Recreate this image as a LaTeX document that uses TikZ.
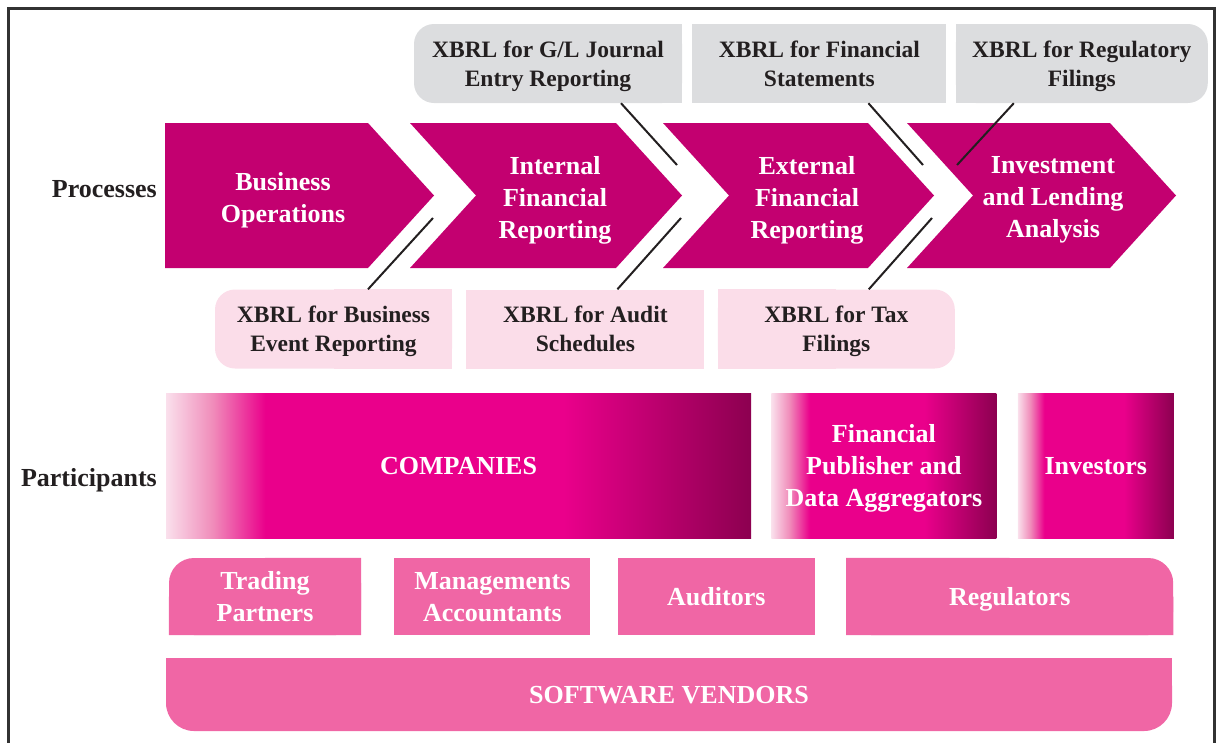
\documentclass[tikz,border=0pt]{standalone}
\usepackage{fontspec}
\setmainfont{Liberation Serif}
\usetikzlibrary{positioning,backgrounds}

\definecolor{inkc}{RGB}{35,31,32}
\definecolor{procmag}{RGB}{195,0,112}
\definecolor{grayc}{RGB}{220,221,223}
\definecolor{lightpk}{RGB}{251,221,233}
\definecolor{rolepk}{RGB}{240,102,165}
\definecolor{palepk}{RGB}{250,224,236}
\definecolor{midpk}{RGB}{240,140,186}
\definecolor{hotmag}{RGB}{234,0,139}
\definecolor{darkmag}{RGB}{140,0,80}

\newcommand{\lblfont}{\fontsize{26}{32}\selectfont\bfseries}
\newcommand{\xbrlfont}{\fontsize{23.5}{29}\selectfont\bfseries}

\pgfdeclarehorizontalshading{partshade}{100bp}{color(0bp)=(palepk); color(25bp)=(palepk);
  color(29bp)=(midpk); color(33.5bp)=(hotmag); color(59bp)=(hotmag);
  color(75bp)=(darkmag); color(100bp)=(darkmag)}

\begin{document}
\begin{tikzpicture}[x=1pt,y=-1pt,
  xbrl/.style={align=center,inner sep=0pt,minimum height=79pt,font=\xbrlfont,text=inkc,text depth=0pt},
  topbox/.style={xbrl,fill=grayc},
  lowbox/.style={xbrl,fill=lightpk},
  stage/.style={align=center,inner sep=0pt,font=\lblfont,text=white,text depth=0pt},
  party/.style={align=center,inner sep=0pt,minimum height=145pt,font=\lblfont,text=white,text depth=-4pt,shade,shading=partshade},
  role/.style={align=center,inner sep=0pt,minimum height=77pt,font=\lblfont,text=white,text depth=-3pt,fill=rolepk},
  rowlabel/.style={anchor=base east,inner sep=0pt,font=\lblfont,text=inkc},
  link/.style={draw=inkc,line width=2pt}]
\useasboundingbox (0,0) rectangle (1217,742);
\draw[draw={rgb,255:red,50;green,50;blue,50},line width=3pt] (8,760) -- (8,8) -- (1214,8) -- (1214,760);

% process chain
\fill[procmag] (165,123) -- (368,123) -- (434,195.5) -- (368,268) -- (165,268) -- cycle;
\fill[procmag] (410,123) -- (616,123) -- (682,195.5) -- (616,268) -- (410,268) -- (476,195.5) -- cycle;
\fill[procmag] (663,123) -- (868,123) -- (934,195.5) -- (868,268) -- (663,268) -- (729,195.5) -- cycle;
\fill[procmag] (907,123) -- (1110,123) -- (1176,195.5) -- (1110,268) -- (907,268) -- (973,195.5) -- cycle;
\node[stage] (bo) at (283,197) {Business\\Operations};
\node[stage] (ifr) at (555,197) {Internal\\Financial\\Reporting};
\node[stage] (efr) at (807,197) {External\\Financial\\Reporting};
\node[stage] (ila) at (1053,197) {Investment\\and Lending\\Analysis};

% xbrl taxonomies
\node[topbox,minimum width=268pt,rounded corners=20pt] (gl) at (548,63.5) {XBRL for G/L Journal\\Entry Reporting};
\node[topbox,minimum width=254pt,right=10pt of gl] (fs) {XBRL for Financial\\Statements};
\node[topbox,minimum width=252pt,rounded corners=20pt,right=9pt of fs] (rf) {XBRL for Regulatory\\Filings};
\node[lowbox,minimum width=237pt,rounded corners=20pt] (be) at (333.5,329) {XBRL for Business\\Event Reporting};
\node[lowbox,minimum width=238pt,right=14pt of be] (au) {XBRL for Audit\\Schedules};
\node[lowbox,minimum width=237pt,rounded corners=20pt,right=13pt of au] (tx) {XBRL for Tax\\Filings};

\coordinate (g1) at (677,165); \coordinate (g2) at (923,165); \coordinate (g3) at (957,165);
\coordinate (g4) at (433,218); \coordinate (g5) at (681,218); \coordinate (g6) at (932,218);
\draw[link] ([xshift=73pt]gl.south) -- (g1);
\draw[link] ([xshift=49pt]fs.south) -- (g2);
\draw[link] ([xshift=-68pt]rf.south) -- (g3);
\draw[link] ([xshift=34.5pt]be.north) -- (g4);
\draw[link] ([xshift=32pt]au.north) -- (g5);
\draw[link] ([xshift=32.5pt]tx.north) -- (g6);

% participants
\node[party,minimum width=585pt] (co) at (458.5,465.5) {COMPANIES};
\node[party,minimum width=225pt,right=20pt of co] (fp) {Financial\\Publisher and\\Data Aggregators};
\node[party,minimum width=156pt,right=21pt of fp] (inv) {Investors};
\node[role,minimum width=192pt,rounded corners=25pt] (tp) at (265,596.5) {Trading\\Partners};
\node[role,minimum width=196pt,right=33pt of tp] (ma) {Managements\\Accountants};
\node[role,minimum width=197pt,right=27pt of ma] (ad) {Auditors};
\node[role,minimum width=327pt,rounded corners=25pt,right=31pt of ad] (rg) {Regulators};
\node[role,minimum width=1006pt,minimum height=73pt,rounded corners=28pt] (sv) at (669,694.5) {SOFTWARE VENDORS};

\node[rowlabel] (proc) at (157,197.5) {Processes};
\node[rowlabel] (part) at (157,486.5) {Participants};

% square off the corners that are not rounded
\begin{scope}[on background layer]
\fill[grayc] (gl.north) rectangle (gl.south east);
\fill[grayc] (rf.north west) rectangle (rf.south);
\fill[lightpk] (be.north) rectangle (be.south east);
\fill[lightpk] (tx.north west) rectangle (tx.south);
\fill[rolepk] (tp.north) rectangle (tp.south east) (tp.west) rectangle (tp.south);
\fill[rolepk] (rg.north west) rectangle (rg.south) (rg.west) rectangle (rg.south east);
\fill[rolepk] (sv.north west) rectangle (sv.east);
\end{scope}
\end{tikzpicture}
\end{document}
